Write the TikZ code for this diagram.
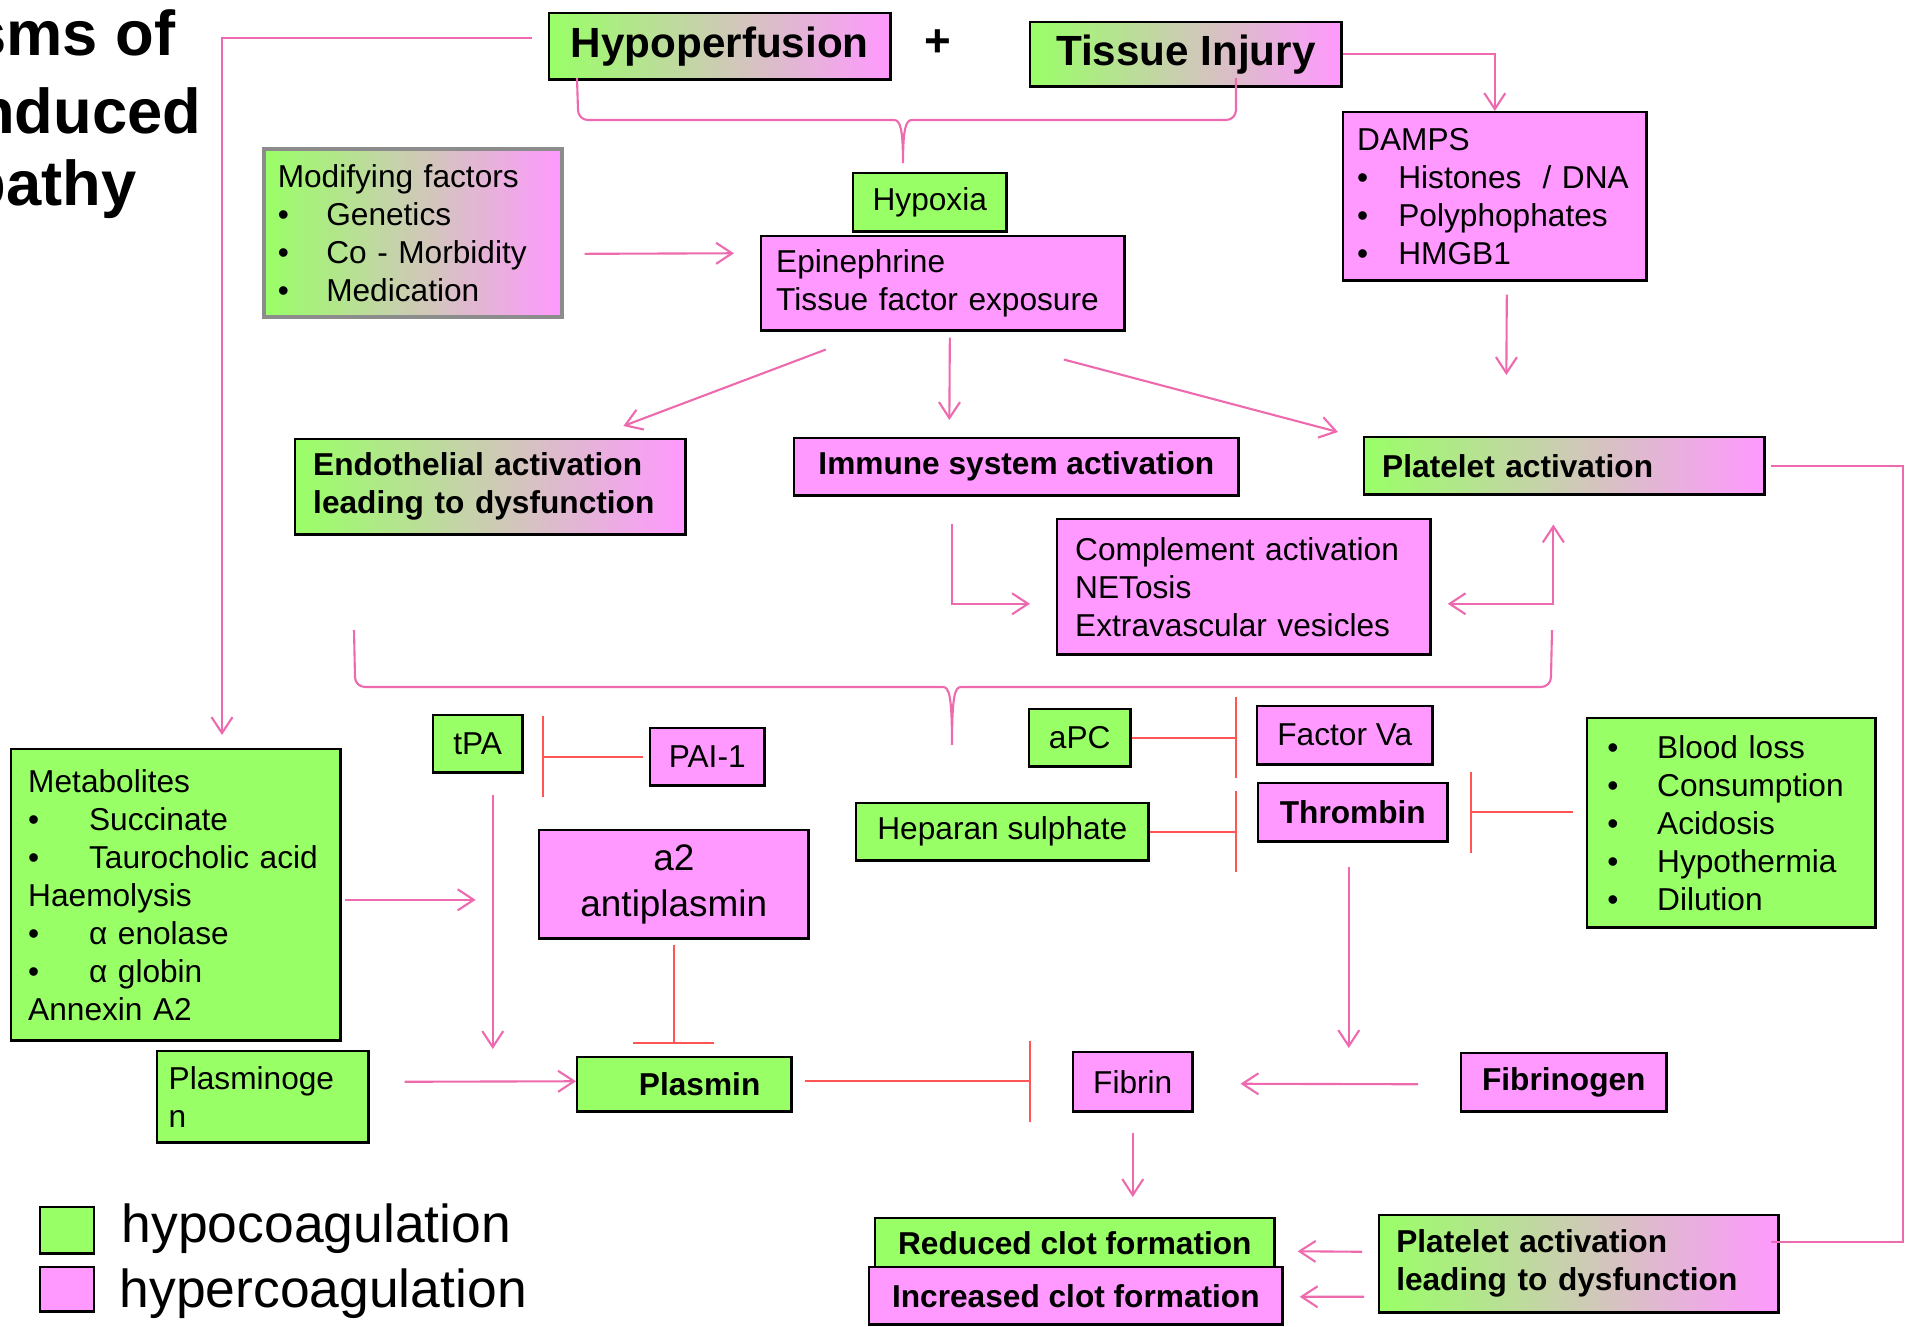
\documentclass[tikz,border=0pt]{standalone}
\usepackage{fontspec}
\setmainfont{Liberation Sans}
\usetikzlibrary{arrows.meta,calc,positioning}

\definecolor{hgreen}{HTML}{99FF66}
\definecolor{hpink}{HTML}{FF99FF}
\definecolor{linkpink}{HTML}{EE6AAE}
\definecolor{inhred}{HTML}{FF5555}

\newcommand{\bul}[1]{\makebox[#1][l]{\textbullet}}

\tikzset{barb/.tip={Straight Barb[length=1.6mm,width=2.1mm]}}

\begin{document}
\begin{tikzpicture}[x=0.01cm,y=-0.01cm,
  cell/.style={draw=black,line width=0.7pt,anchor=north west,inner sep=0pt,font={\fontsize{9}{10.8}\selectfont}},
  greenbox/.style={cell,fill=hgreen},
  pinkbox/.style={cell,fill=hpink},
  gradbox/.style={cell,left color=hgreen,right color=hpink},
  boldtext/.style={font={\fontsize{9}{10.8}\selectfont\bfseries}},
  bigtext/.style={font={\fontsize{12}{14}\selectfont\bfseries}},
  link/.style={draw=linkpink,line width=0.6pt},
  flow/.style={link,-barb},
  flowboth/.style={link,barb-barb},
  block/.style={draw=inhred,line width=0.6pt,-{Bar[width=8.1mm]}}
]
\useasboundingbox (0,0) rectangle (1908,1326);

% title (cut at the left edge)
\node[anchor=base east,inner sep=0pt,font={\fontsize{18}{21}\selectfont\bfseries}] (title1) at (176,55) {sms of};
\node[anchor=base east,inner sep=0pt,font={\fontsize{18}{21}\selectfont\bfseries}] (title2) at (202,133) {nduced};
\node[anchor=base east,inner sep=0pt,font={\fontsize{18}{21}\selectfont\bfseries}] (title3) at (137,205) {pathy};

% top row
\node[gradbox,bigtext,minimum width=3.41cm,minimum height=0.66cm] (hypo) at (548,12) {Hypoperfusion};
\node[font={\fontsize{13}{15}\selectfont\bfseries}] (plus) at (938,43) {+};
\node[gradbox,bigtext,minimum width=3.11cm,minimum height=0.64cm] (tissue) at (1029,21) {Tissue Injury};

\node[greenbox,minimum width=1.53cm,minimum height=0.58cm] (hypoxia) at (852,172) {Hypoxia};
\node[pinkbox,text width=3.33cm,inner xsep=0.15cm,minimum height=0.94cm,align=left] (epi) at (760,235) {Epinephrine\\Tissue factor exposure};
\node[gradbox,draw=black!45,line width=1pt,text width=2.70cm,inner xsep=0.14cm,minimum height=1.68cm,align=left] (modif) at (262,147)
  {Modifying factors\\\bul{13.8pt}Genetics\\\bul{13.8pt}Co - Morbidity\\\bul{13.8pt}Medication};
\node[pinkbox,text width=2.75cm,inner xsep=0.14cm,minimum height=1.68cm,align=left] (damps) at (1342,111)
  {DAMPS\\\bul{11.7pt}Histones~ / DNA\\\bul{11.7pt}Polyphophates\\\bul{11.7pt}HMGB1};

% activation row
\node[gradbox,boldtext,text width=3.54cm,inner xsep=0.18cm,minimum height=0.95cm,align=left] (endo) at (294,438) {Endothelial activation\\leading to dysfunction};
\node[pinkbox,boldtext,minimum width=4.44cm,minimum height=0.57cm] (immune) at (793,437) {Immune system activation};
\node[gradbox,boldtext,text width=3.64cm,inner xsep=0.18cm,minimum height=0.57cm,align=left] (platelet) at (1363,436) {Platelet activation};
\node[pinkbox,text width=3.37cm,inner xsep=0.18cm,minimum height=1.35cm,align=left] (compl) at (1056,518) {Complement activation\\NETosis\\Extravascular vesicles};

% fibrinolysis
\node[greenbox,minimum width=0.89cm,minimum height=0.57cm] (tpa) at (432,714) {tPA};
\node[pinkbox,minimum width=1.14cm,minimum height=0.57cm] (pai) at (649,727) {PAI-1};
\node[greenbox,text width=2.95cm,inner xsep=0.17cm,minimum height=2.91cm,align=left] (metab) at (10,748)
  {Metabolites\\\bul{17.3pt}Succinate\\\bul{17.3pt}Taurocholic acid\\Haemolysis\\\bul{17.3pt}α enolase\\\bul{17.3pt}α globin\\Annexin A2};
\node[pinkbox,minimum width=2.69cm,minimum height=1.08cm,align=center,font={\fontsize{10.5}{13}\selectfont}] (antipl) at (538,829) {a2\\antiplasmin};
\node[greenbox,boldtext,text width=1.52cm,inner xsep=0.31cm,minimum height=0.54cm,align=right] (plasmin) at (576,1056) {Plasmin};
\node[greenbox,text width=1.88cm,inner xsep=0.115cm,minimum height=0.91cm,align=left] (plgn) at (156,1050) {Plasminoge\\n};

% coagulation
\node[greenbox,minimum width=1.01cm,minimum height=0.57cm] (apc) at (1028,708) {aPC};
\node[pinkbox,minimum width=1.75cm,minimum height=0.58cm] (factorva) at (1256,705) {Factor Va};
\node[greenbox,minimum width=2.92cm,minimum height=0.57cm] (heparan) at (855,802) {Heparan sulphate};
\node[pinkbox,boldtext,minimum width=1.89cm,minimum height=0.58cm] (thrombin) at (1257,782) {Thrombin};
\node[greenbox,text width=2.48cm,inner xsep=0.2cm,minimum height=2.09cm,align=left] (blood) at (1586,717)
  {\bul{14.2pt}Blood loss\\\bul{14.2pt}Consumption\\\bul{14.2pt}Acidosis\\\bul{14.2pt}Hypothermia\\\bul{14.2pt}Dilution};
\node[pinkbox,minimum width=1.19cm,minimum height=0.59cm] (fibrin) at (1072,1051) {Fibrin};
\node[pinkbox,boldtext,minimum width=2.05cm,minimum height=0.58cm] (fibrinogen) at (1460,1052) {Fibrinogen};

% outcome
\node[greenbox,boldtext,minimum width=3.99cm,minimum height=0.50cm] (reduced) at (874,1217) {Reduced clot formation};
\node[pinkbox,boldtext,minimum width=4.13cm,minimum height=0.57cm] (increased) at (868,1266) {Increased clot formation};
\node[gradbox,boldtext,text width=3.65cm,inner xsep=0.17cm,minimum height=0.97cm,align=left] (pltdys) at (1378,1214) {Platelet activation\\leading to dysfunction};

% key
\node[greenbox,minimum width=0.54cm,minimum height=0.46cm] (keygreen) at (39,1206) {};
\node[pinkbox,minimum width=0.54cm,minimum height=0.44cm] (keypink) at (39,1266) {};
\node[anchor=base west,inner sep=0pt,font={\fontsize{15.2}{18}\selectfont}] (keyhypo) at (121,1242) {hypocoagulation};
\node[anchor=base west,inner sep=0pt,font={\fontsize{15.2}{18}\selectfont}] (keyhyper) at (119,1307) {hypercoagulation};

% braces
\draw[link] (577,78) -- (578,110) to[out=-90,in=180] (588,120) -- (894,120)
  .. controls (900,120) and (903,128) .. (903,163)
  .. controls (903,128) and (906,120) .. (912,120) -- (1226,120) to[out=0,in=-90] (1236,110) -- (1236,78);
\draw[link] (354,630) -- (355,677) to[out=-90,in=180] (365,687) -- (943,687)
  .. controls (949,687) and (952,695) .. (952,745)
  .. controls (952,695) and (955,687) .. (961,687) -- (1541,687) to[out=0,in=-90] (1551,677) -- (1552,630);

% arrows
\draw[flow] ($(hypo.west)+(-16,-8)$) -| ($(metab.north west)+(212,-13)$);
\draw[flow] (tissue.east) -| (damps.north);
\draw[flow] ($(modif.east)+(21,21)$) -- ($(epi.west)+(-26,-30)$);
\draw[flow] ($(epi.south)+(-117,18)$) -- ($(endo.north)+(133,-12)$);
\draw[flow] ($(epi.south)+(7,6)$) -- ($(immune.north)+(-67,-17)$);
\draw[flow] ($(epi.south)+(121,28)$) -- ($(platelet.north west)+(-25,-4)$);
\draw[flow] ($(damps.south)+(12,13)$) -- ($(platelet.north)+(-58,-61)$);
\draw[flow] ($(immune.south)+(-64,27)$) |- ($(compl.west)+(-26,17)$);
\draw[flowboth] ($(compl.east)+(16,17)$) -| ($(platelet.south)+(-11,29)$);
\draw[link] ($(platelet.east)+(5,0)$) -- ++(132,0) |- ($(pltdys.east)+(-9,-22)$);
\draw[flow] ($(metab.east)+(3,5)$) -- ($(metab.east)+(134,5)$);
\draw[flow] ($(tpa.south)+(15,21)$) -- ($(tpa.south |- plasmin.north)+(15,-7)$);
\draw[flow] ($(plgn.east)+(35,-15)$) -- ($(plasmin.west)+(0,-3)$);
\draw[flow] ($(fibrinogen.west)+(-42,2)$) -- ($(fibrin.east)+(47,2)$);
\draw[flow] ($(thrombin.south)+(-4,24)$) -- ($(thrombin.south |- fibrin.north)+(-4,-3)$);
\draw[flow] ($(fibrin.south)+(0,20)$) -- ($(fibrin.south |- reduced.north)+(0,-20)$);
\draw[flow] ($(pltdys.west)+(-16,-12)$) -- ($(reduced.east)+(22,8)$);
\draw[flow] ($(pltdys.west)+(-14,33)$) -- ($(increased.east)+(16,1)$);

% inhibition
\draw[block] ($(pai.west)+(-6,0)$) -- ($(pai.west -| tpa.east)+(18,0)$);
\draw[block] (apc.east) -- ($(apc.east -| factorva.west)+(-19,0)$);
\draw[block] (heparan.east) -- ($(heparan.east -| thrombin.west)+(-20,0)$);
\draw[block] ($(blood.west |- thrombin.east)+(-13,0)$) -- ($(thrombin.east)+(21,0)$);
\draw[block] ($(antipl.south)+(0,5)$) -- ($(antipl.south |- plasmin.north)+(0,-12)$);
\draw[block] ($(plasmin.east)+(12,-3)$) -- ($(plasmin.east -| fibrin.west)+(-41,-3)$);

\end{tikzpicture}
\end{document}
